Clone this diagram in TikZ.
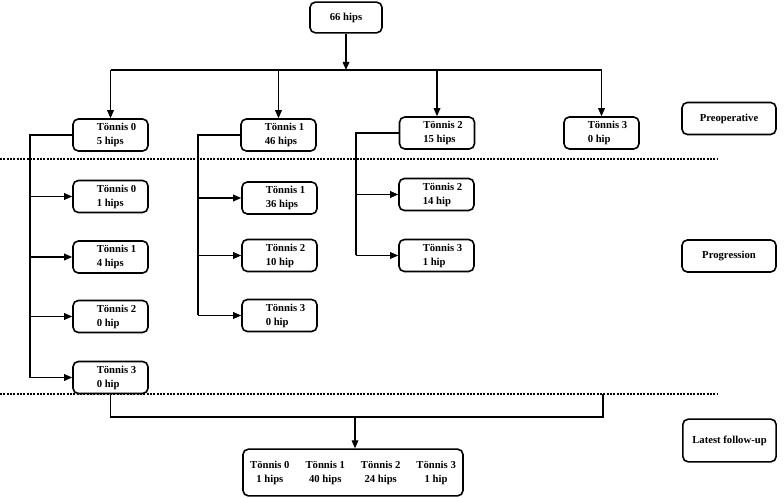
\documentclass[tikz,border=0pt]{standalone}
\usepackage{fontspec}
\setmainfont{Liberation Serif}
\usetikzlibrary{arrows.meta}

\tikzset{
  scatola/.style={draw, line width=1.2pt, rounded corners=4pt,
    minimum width=56.25pt, minimum height=24pt, inner sep=1pt,
    font=\fontsize{8}{10.5}\selectfont\bfseries},
  freccia/.style={-{Triangle[length=6pt,width=5pt]}, line width=0.9pt},
  filo/.style={line width=0.9pt},
  confine/.style={densely dotted, line width=1.5pt},
}

\begin{document}
\begin{tikzpicture}[x=0.75pt, y=-0.75pt]
        % --- macro riutilizzabili -----------------------------------------
        \def\grado#1#2{\begin{tabular}{@{\hspace{9pt}}l@{}}Tönnis #1\\#2\end{tabular}}
        \useasboundingbox (0,0) rectangle (784,498);
        % --- radice e stadio preoperatorio --------------------------------
        \node[scatola, minimum width=54pt, minimum height=23pt] (radice) at (346,17.5) {66 hips};
        \node[scatola] (pre0) at (110.5,135) {\grado{0}{5 hips}};
        \node[scatola] (pre1) at (278.5,135) {\grado{1}{46 hips}};
        \node[scatola] (pre2) at (437,133) {\grado{2}{15 hips}};
        \node[scatola] (pre3) at (601.5,133) {\grado{3}{0 hip}};
        \node[scatola, minimum width=70.5pt] (fase1) at (729,118.5) {Preoperative};
        % --- progressione -------------------------------------------------
        \node[scatola] (p00) at (110.5,196.5) {\grado{0}{1 hips}};
        \node[scatola] (p01) at (110.5,257) {\grado{1}{4 hips}};
        \node[scatola] (p02) at (110.5,316.5) {\grado{2}{0 hip}};
        \node[scatola] (p03) at (110.5,377.5) {\grado{3}{0 hip}};
        \node[scatola] (p11) at (279.5,198) {\grado{1}{36 hips}};
        \node[scatola] (p12) at (279.5,255.5) {\grado{2}{10 hip}};
        \node[scatola] (p13) at (279.5,315.5) {\grado{3}{0 hip}};
        \node[scatola] (p22) at (436.5,194.5) {\grado{2}{14 hip}};
        \node[scatola] (p23) at (436.5,255.5) {\grado{3}{1 hip}};
        \node[scatola, minimum width=70.5pt] (fase2) at (729,256) {Progression};
        % --- ultimo controllo ---------------------------------------------
        \node[scatola, minimum width=165pt, minimum height=35pt] (finale) at (353,472.5)
          {\begin{tabular}{@{}cccc@{}}Tönnis 0 & Tönnis 1 & Tönnis 2 & Tönnis 3\\
           1 hips & 40 hips & 24 hips & 1 hip\end{tabular}};
        \node[scatola, minimum width=70pt, minimum height=32pt] (fase3) at (729.5,440.5) {Latest follow-up};
        % --- confini tra gli stadi ----------------------------------------
        \draw[confine] (0,159) -- (718,159);
        \draw[confine] (0,394) -- (718,394);
        % --- rami dalla radice --------------------------------------------
        \coordinate (snodo) at (346,70);
        \draw[freccia] (radice) -- (snodo);
        \draw[filo] (pre0.north |- snodo) -- (pre3.north |- snodo);
        \foreach \k in {0,...,3}
          \draw[freccia] (pre\k.north |- snodo) -- (pre\k.north);
        % --- rami della progressione --------------------------------------
        \coordinate (asse0) at (30,0);
        \coordinate (asse1) at (198,0);
        \coordinate (asse2) at (356,0);
        \draw[filo] (pre0.west) -| (asse0 |- p03.west);
        \foreach \k in {0,...,3}
          \draw[freccia] (asse0 |- p0\k.west) -- (p0\k.west);
        \draw[filo] (pre1.west) -| (asse1 |- p13.west);
        \foreach \k in {1,2,3}
          \draw[freccia] (asse1 |- p1\k.west) -- (p1\k.west);
        \draw[filo] (pre2.west) -| (asse2 |- p23.west);
        \foreach \k in {2,3}
          \draw[freccia] (asse2 |- p2\k.west) -- (p2\k.west);
        % --- ricongiungimento ---------------------------------------------
        \coordinate (gomito) at (603,417);
        \coordinate (aggancio) at (603,394);
        \coordinate (presa) at (355,417);
        \draw[filo] (p03.south) |- (gomito) -- (aggancio);
        \draw[freccia] (presa) -- (presa |- finale.north);
\end{tikzpicture}
\end{document}
